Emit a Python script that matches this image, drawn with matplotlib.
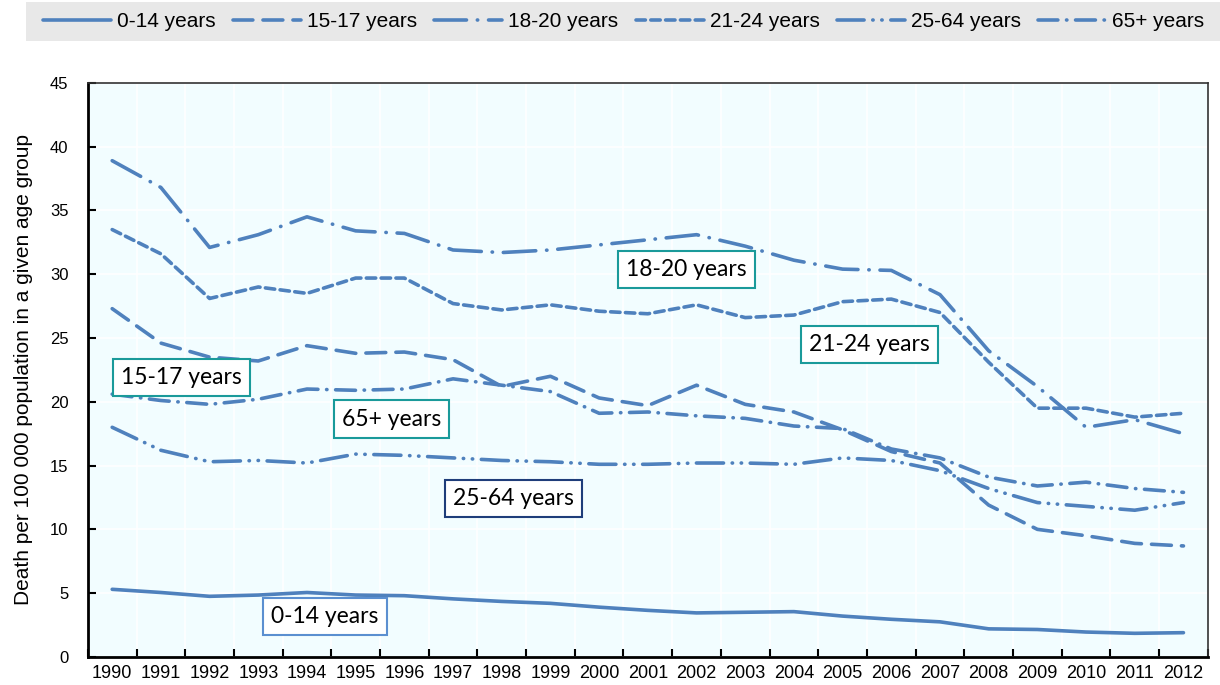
import matplotlib
matplotlib.use('Agg')
import matplotlib.pyplot as plt
from matplotlib.patches import Rectangle
import numpy as np

# data
years = [str(y) for y in range(1990, 2013)]

age_0_14 = [5.3, 5.05, 4.75, 4.85, 5.05, 4.85, 4.8, 4.55, 4.35, 4.2, 3.9, 3.65,
            3.45, 3.5, 3.55, 3.2, 2.95, 2.75, 2.2, 2.15, 1.95, 1.85, 1.9]
age_15_17 = [27.3, 24.6, 23.5, 23.2, 24.4, 23.8, 23.9, 23.3, 21.2, 22.0, 20.3, 19.7,
             21.3, 19.8, 19.2, 17.8, 16.1, 15.2, 11.9, 10.0, 9.5, 8.9, 8.7]
age_18_20 = [38.9, 36.8, 32.1, 33.1, 34.5, 33.4, 33.2, 31.9, 31.7, 31.9, 32.3, 32.7,
             33.1, 32.2, 31.1, 30.4, 30.3, 28.4, 24.0, 21.2, 18.0, 18.6, 17.5]
age_21_24 = [33.5, 31.6, 28.1, 29.0, 28.5, 29.7, 29.7, 27.7, 27.2, 27.6, 27.1, 26.9,
             27.6, 26.6, 26.8, 27.85, 28.05, 27.0, 23.1, 19.5, 19.5, 18.8, 19.1]
age_25_64 = [18.0, 16.2, 15.3, 15.4, 15.2, 15.9, 15.8, 15.6, 15.4, 15.3, 15.1, 15.1,
             15.2, 15.2, 15.1, 15.6, 15.4, 14.6, 13.2, 12.1, 11.8, 11.5, 12.1]
age_65 = [20.6, 20.1, 19.8, 20.2, 21.0, 20.9, 21.0, 21.8, 21.3, 20.8, 19.1, 19.2,
          18.9, 18.7, 18.1, 17.9, 16.3, 15.6, 14.1, 13.4, 13.7, 13.2, 12.9]

labels = ['0-14 years', '15-17 years', '18-20 years', '21-24 years', '25-64 years', '65+ years']

blue = '#4F81BD'
lw = 2.6
styles = ['-',
          (0, (5.5, 2.8)),
          (0, (9.0, 3.0, 0.1, 3.0)),
          (0, (2.6, 1.5)),
          (0, (7.5, 2.4, 0.1, 2.4, 0.1, 2.4)),
          (0, (5.5, 2.4, 0.1, 2.4))]

font = 'Liberation Sans'

fig = plt.figure(figsize=(12.2, 6.85), dpi=100)
ax = fig.add_axes([0.072, 0.041, 0.918, 0.838])
ax.set_facecolor('#F2FDFF')

x = np.arange(len(years))
series = [age_0_14, age_15_17, age_18_20, age_21_24, age_25_64, age_65]
for vals, ls, lab in zip(series, styles, labels):
    ax.plot(x, vals, color=blue, lw=lw, linestyle=ls, label=lab,
            dash_capstyle='round', solid_capstyle='round')

ax.set_xlim(-0.5, len(years) - 0.5)
ax.set_ylim(0, 45)
ax.set_yticks(np.arange(0, 46, 5))
ax.set_xticks(x)
ax.set_xticklabels(years)
ax.set_xticks(np.arange(-0.5, len(years)), minor=True)
ax.tick_params(axis='x', which='major', length=0, pad=6,
               labelsize=13, labelfontfamily=font)
ax.tick_params(axis='x', which='minor', direction='in', length=6, width=1.5)
ax.tick_params(axis='y', direction='in', length=6, width=1.5, pad=14,
               labelsize=12, labelfontfamily=font)
ax.grid(True, which='minor', axis='x', color='white', lw=1.2)
ax.grid(True, which='major', axis='y', color='white', lw=1.2)
ax.set_axisbelow(True)

for side in ['left', 'bottom']:
    ax.spines[side].set_linewidth(2)
for side in ['top', 'right']:
    ax.spines[side].set_linewidth(1.2)
    ax.spines[side].set_color('#333333')

ax.set_ylabel('Death per 100 000 population in a given age group', fontsize=15,
              family=font, labelpad=12)

# boxed labels on the lines
box_text = ['18-20 years', '21-24 years', '15-17 years', '65+ years', '25-64 years', '0-14 years']
box_x = [11.8, 15.55, 1.42, 5.73, 8.25, 4.37]
box_y = [30.4, 24.5, 21.9, 18.65, 12.45, 3.2]
box_edge = ['#1A9A9A', '#1A9A9A', '#1A9A9A', '#1A9A9A', '#1F3D7A', '#5B8FD0']
for t, bx, by, ec in zip(box_text, box_x, box_y, box_edge):
    ax.text(bx, by, t, ha='center', va='center', fontsize=16.5, family='Lato',
            bbox=dict(boxstyle='square,pad=0.35', fc='white', ec=ec, lw=1.5))

# grey legend band across the top
fig.patches.append(Rectangle((26 / 1220, 1 - 41 / 685), 1 - 26 / 1220, 39 / 685,
                             transform=fig.transFigure, fc='#E8E8E8', ec='none', zorder=0))
leg = fig.legend(loc='center left', bbox_to_anchor=(43 / 1220, 1 - 21.5 / 685),
                 ncol=6, frameon=False, handlelength=3.27, handletextpad=0.29,
                 columnspacing=0.82, borderaxespad=0, borderpad=0,
                 prop={'family': font, 'size': 15})

fig.savefig('out.png', dpi=100)
